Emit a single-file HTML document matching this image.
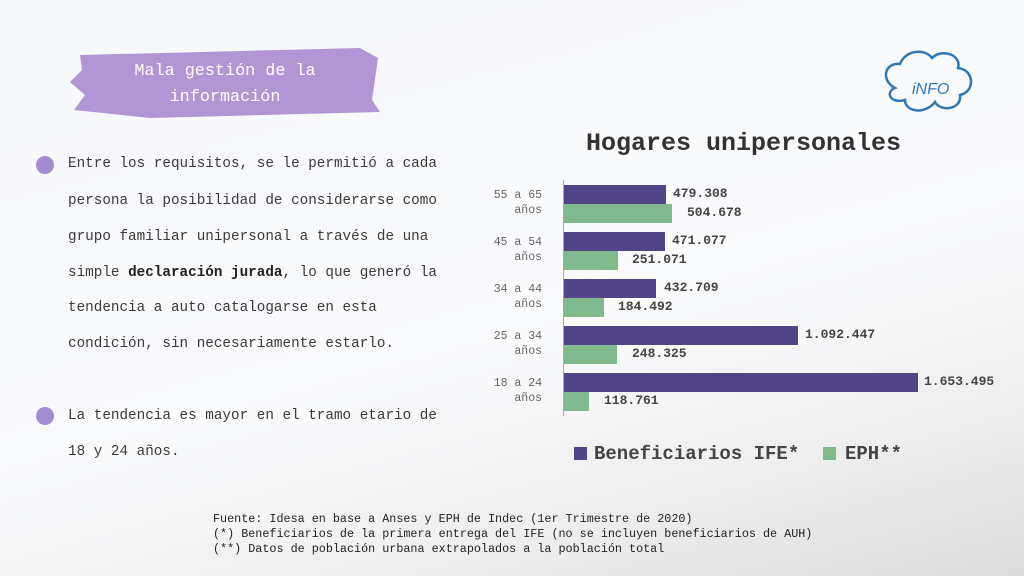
<!DOCTYPE html>
<html><head><meta charset="utf-8"><style>
body{margin:0;width:1024px;height:576px;overflow:hidden;position:relative;font-family:"Liberation Mono",monospace;
background:linear-gradient(165deg,#f6f7fb 0%,#fafbfd 55%,#eeeeee 80%,#dcdcdc 100%);}
.t{position:absolute;white-space:nowrap}
.p{font-size:14.3px;color:#3a3a3a;left:68px}
.lab{font-size:11.5px;color:#666;text-align:right;width:52px;left:490px;line-height:15px}
.v{font-size:13px;color:#444;font-weight:bold}
.b{position:absolute;height:19px}
.pu{background:#514488}
.gr{background:#80b98e}
</style></head><body>
<svg style="position:absolute;left:0;top:0" width="1024" height="576">
<path d="M80,55 L360,48 L378,58 L372,100 L380,112 L150,118 L74,110 L85,95 L70,82 L82,70 Z" fill="#a78bd0" opacity="0.9"/>
<circle cx="45" cy="165" r="9" fill="#a58bd0"/>
<circle cx="45" cy="416" r="9" fill="#a58bd0"/>
<path d="M895,88 C880,80 885,62 900,64 C905,50 925,48 932,58 C942,48 962,55 958,68 C975,70 975,92 960,95 C962,110 940,112 935,102 C925,115 905,112 905,100 C890,104 885,92 895,88 Z" fill="none" stroke="#2e78b8" stroke-width="2.5"/>
<text x="912" y="94" font-family="Liberation Sans,sans-serif" font-size="16" fill="#2e78b8" font-style="italic">iNFO</text>
<line x1="563.5" y1="180" x2="563.5" y2="416" stroke="#aaa" stroke-width="1"/>
<rect x="574" y="447" width="13" height="13" fill="#514488"/>
<rect x="823" y="447" width="13" height="13" fill="#80b98e"/>
</svg>
<div class="t" style="left:134px;top:59px;font-size:16.8px;color:#fff;line-height:26px;text-align:center;width:182px">Mala gestión de la<br>información</div>
<div class="t p" style="top:156px">Entre los requisitos, se le permitió a cada</div>
<div class="t p" style="top:193px">persona la posibilidad de considerarse como</div>
<div class="t p" style="top:229px">grupo familiar unipersonal a través de una</div>
<div class="t p" style="top:265px">simple <b style="color:#222">declaración jurada</b>, lo que generó la</div>
<div class="t p" style="top:300px">tendencia a auto catalogarse en esta</div>
<div class="t p" style="top:336px">condición, sin necesariamente estarlo.</div>
<div class="t p" style="top:408px">La tendencia es mayor en el tramo etario de</div>
<div class="t p" style="top:444px">18 y 24 años.</div>
<div class="t" style="left:586px;top:129px;font-size:25px;font-weight:bold;color:#333">Hogares unipersonales</div>

<div class="t lab" style="top:188px">55 a 65<br>años</div>
<div class="b pu" style="left:564px;top:185px;width:102px"></div>
<div class="b gr" style="left:564px;top:204px;width:108px"></div>
<div class="t v" style="left:673px;top:186px">479.308</div>
<div class="t v" style="left:687px;top:205px">504.678</div>

<div class="t lab" style="top:235px">45 a 54<br>años</div>
<div class="b pu" style="left:564px;top:232px;width:101px"></div>
<div class="b gr" style="left:564px;top:251px;width:54px"></div>
<div class="t v" style="left:672px;top:233px">471.077</div>
<div class="t v" style="left:632px;top:252px">251.071</div>

<div class="t lab" style="top:282px">34 a 44<br>años</div>
<div class="b pu" style="left:564px;top:279px;width:92px"></div>
<div class="b gr" style="left:564px;top:298px;width:40px"></div>
<div class="t v" style="left:664px;top:280px">432.709</div>
<div class="t v" style="left:618px;top:299px">184.492</div>

<div class="t lab" style="top:329px">25 a 34<br>años</div>
<div class="b pu" style="left:564px;top:326px;width:234px"></div>
<div class="b gr" style="left:564px;top:345px;width:53px"></div>
<div class="t v" style="left:805px;top:327px">1.092.447</div>
<div class="t v" style="left:632px;top:346px">248.325</div>

<div class="t lab" style="top:376px">18 a 24<br>años</div>
<div class="b pu" style="left:564px;top:373px;width:354px"></div>
<div class="b gr" style="left:564px;top:392px;width:25px"></div>
<div class="t v" style="left:924px;top:374px">1.653.495</div>
<div class="t v" style="left:604px;top:393px">118.761</div>

<div class="t" style="left:594px;top:443px;font-size:19px;font-weight:bold;color:#444">Beneficiarios IFE*</div>
<div class="t" style="left:845px;top:443px;font-size:19px;font-weight:bold;color:#444">EPH**</div>

<div class="t" style="left:213px;top:512px;font-size:11.75px;line-height:15px;color:#222">Fuente: Idesa en base a Anses y EPH de Indec (1er Trimestre de 2020)<br>(*) Beneficiarios de la primera entrega del IFE (no se incluyen beneficiarios de AUH)<br>(**) Datos de población urbana extrapolados a la población total</div>
</body></html>
